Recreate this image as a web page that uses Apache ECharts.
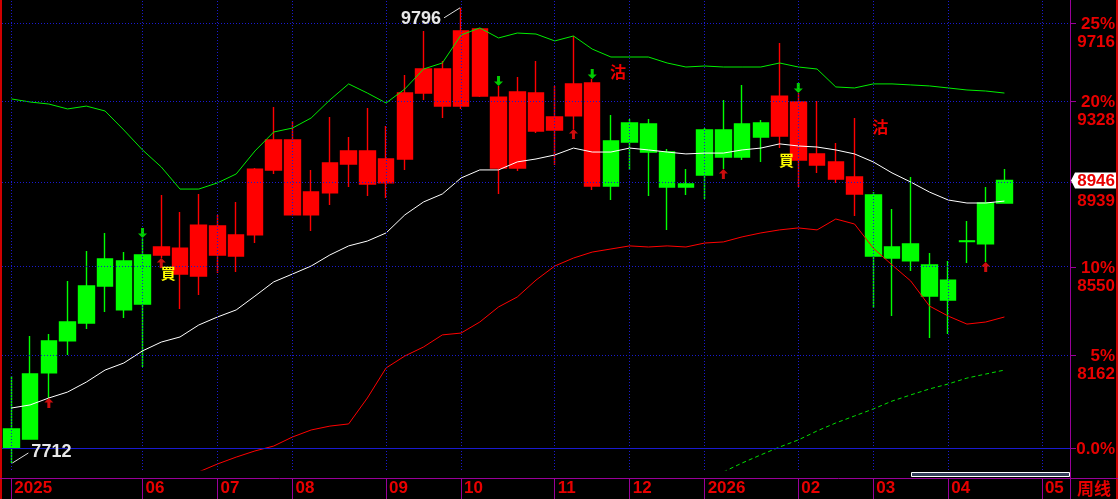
<!DOCTYPE html>
<html>
<head>
<meta charset="utf-8">
<script src="https://cdn.jsdelivr.net/npm/echarts@6/dist/echarts.min.js"></script>
<style>
html,body{margin:0;padding:0;background:#000;}
#c{width:1118px;height:499px;}
</style>
</head>
<body>
<div id="c"></div>
<script>
// ---- weekly candles (index 0 = first week shown) ----
const candleOpen  = [7773,7810,8086,8223,8301,8464,8358,8384,8639,8634,8739,8735,8694,9000,9139,9139,8892,9029,9086,9086,9048,9367,9486,9486,9677,9688,9347,9372,9367,9250,9412,9417,8920,9129,9081,8916,8916,8972,9057,9057,9153,9352,9323,9072,9034,8963,8598,8589,8576,8419,8402,8664,8653,8841];
const candleClose = [7851,8081,8223,8305,8464,8585,8576,8603,8603,8517,8508,8603,8598,8694,8996,8786,8786,8888,9024,8930,8935,9048,9367,9303,9303,9352,9005,9005,9182,9187,9255,8920,9134,9221,9216,9081,8930,9187,9187,9216,9221,9158,9043,9019,8953,8883,8878,8639,8653,8558,8490,8667,8841,8946];
const candleLow   = [7712,7810,7980,8162,8275,8349,8323,8111,8589,8362,8424,8522,8526,8657,8977,8786,8712,8832,8916,8874,8864,8996,9333,9245,9289,9347,8883,8991,9172,9019,9192,8902,8855,8996,8874,8717,8878,8860,9000,9043,9034,9100,8916,8982,8935,8781,8366,8331,8531,8236,8253,8567,8571,8841];
const candleHigh  = [8073,8244,8253,8486,8621,8703,8616,8680,8878,8799,8883,8786,8846,9005,9299,9230,8996,9250,9153,9294,9206,9456,9677,9526,9796,9688,9402,9446,9526,9402,9652,9436,9260,9240,9240,9096,9000,9196,9333,9407,9235,9617,9367,9328,9124,9245,8892,8813,8963,8612,8576,8758,8916,9000];

// ---- indicator lines ----
const maLine = [7938,7951,7980,8005,8047,8098,8128,8180,8218,8240,8292,8327,8358,8419,8482,8517,8553,8603,8644,8666,8703,8786,8846,8883,8958,8996,8996,9034,9048,9067,9100,9081,9081,9100,9091,9081,9072,9076,9076,9091,9100,9120,9110,9105,9091,9072,9034,8982,8939,8892,8855,8841,8841,8850];
const upperBand = [9338,9323,9313,9289,9303,9279,9187,9091,9010,8906,8906,8935,8977,9086,9177,9196,9245,9333,9412,9367,9318,9387,9486,9516,9657,9693,9642,9667,9662,9627,9652,9586,9546,9546,9546,9516,9496,9501,9496,9496,9496,9516,9496,9486,9397,9392,9412,9412,9407,9402,9392,9382,9377,9367];
const lowerBand = [null,null,null,null,null,null,null,null,null,null,7676,7708,7736,7761,7781,7818,7847,7863,7872,7980,8107,8158,8197,8249,8257,8305,8371,8415,8490,8553,8589,8616,8630,8644,8639,8644,8639,8657,8662,8685,8703,8717,8726,8717,8767,8744,8634,8558,8486,8375,8331,8296,8305,8327];
const longMa = [null,null,null,null,null,null,null,null,null,null,null,null,null,null,null,null,null,null,null,null,null,null,null,null,null,null,null,null,null,null,null,null,null,null,null,null,null,null,7676,7712,7745,7777,7806,7843,7876,7905,7934,7967,7993,8018,8039,8064,8081,8098];

// ---- signals ----
const upArrowIdx = [2, 8, 30, 38, 52];
const downArrowIdx = [7, 26, 31, 42];
const buySignals = [[8, 8522], [41, 9043]];
const sellSignals = [[32, 9471], [46, 9201]];

// ---- axes ----
const monthTicks = [0, 7, 11, 15, 20, 24, 29, 33, 37, 42, 46, 50, 55];
const monthLabels = ['2025','06','07','08','09','10','11','12','2026','02','03','04','05'];
const tickPercents = ['25%','20%','15%','10%','5%','0.0%'];
const tickPrices = [9716, 9328, 8939, 8550, 8162, 7773];
const yMin = 7683.7, yMax = 9836.3;
const highLabel = [24, 9796];
const lowLabel = [0, 7712];

const N = 57;
const cats = Array.from({length: N}, (_, i) => 'W' + (i + 1));
const isMonth = (i) => monthTicks.indexOf(i) >= 0;
const candles = candleOpen.map((o, i) => [o, candleClose[i], candleLow[i], candleHigh[i]]);
const pad = (arr) => cats.map((_, i) => (arr[i] === undefined ? null : arr[i]));

const RED = '#e80000', PURPLE = '#990099', GRID = '#1a1ad0';
const FONT = '"Liberation Sans", Arial, sans-serif';

const chart = echarts.init(document.getElementById('c'), null, {renderer: 'canvas'});

const hLines = tickPrices.map((p, k) => ({
  yAxis: p,
  lineStyle: k === tickPrices.length - 1 ? {color: GRID, type: 'solid', width: 1} : {color: GRID, type: [1, 2], width: 1}
}));
const vLines = monthTicks.map(i => ({xAxis: cats[i], lineStyle: {color: GRID, type: [1, 2], width: 1}}));

const upPath = 'path://M4.5 0 L9 4.5 L6 4.5 L6 10 L3 10 L3 4.5 L0 4.5 Z';
const downPath = 'path://M3 0 L6 0 L6 5.5 L9 5.5 L4.5 10 L0 5.5 L3 5.5 Z';

const option = {
  backgroundColor: '#000',
  animation: false,
  grid: {left: 2, right: 48, top: 0, bottom: 29, containLabel: false, outerBoundsMode: 'none'},
  xAxis: {
    type: 'category', data: cats, boundaryGap: true, offset: 8,
    axisLine: {show: false},
    axisTick: {show: true, alignWithLabel: true, length: 21, interval: (i) => isMonth(i), lineStyle: {color: PURPLE, width: 1}},
    axisLabel: {
      show: true, interval: (i) => isMonth(i),
      formatter: (v, i) => monthLabels[monthTicks.indexOf(i)] || '',
      align: 'left', margin: 2, padding: [0, 0, 0, 3],
      color: RED, fontSize: 17, fontWeight: 'bold', fontFamily: FONT
    },
    splitLine: {show: false}
  },
  yAxis: {type: 'log', logBase: 10, min: yMin, max: yMax, show: false, splitLine: {show: false}},
  series: [
    {
      type: 'line', data: cats.map(() => null), silent: true, z: 1,
      markLine: {silent: true, symbol: 'none', animation: false, label: {show: false}, data: hLines.concat(vLines)}
    },
    {
      type: 'candlestick', name: 'K', data: candles, barWidth: 16, z: 2, silent: true,
      itemStyle: {color: '#00ff00', color0: '#ff0000', borderColor: '#00ff00', borderColor0: '#ff0000', borderWidth: 1.4}
    },
    {type: 'line', data: pad(lowerBand), symbol: 'none', silent: true, z: 3, lineStyle: {color: '#ff0000', width: 1}},
    {type: 'line', data: pad(upperBand), symbol: 'none', silent: true, z: 3, lineStyle: {color: '#00ee00', width: 1}},
    {type: 'line', data: pad(longMa), symbol: 'none', silent: true, z: 3, lineStyle: {color: '#00dd00', width: 1, type: [4, 3]}},
    {type: 'line', data: pad(maLine), symbol: 'none', silent: true, z: 3, lineStyle: {color: '#ffffff', width: 1}},
    {
      type: 'scatter', data: upArrowIdx.map(i => [i, candleLow[i]]), symbol: upPath, symbolSize: [9, 10],
      symbolOffset: [0, 5], itemStyle: {color: '#ff1010'}, z: 5, silent: true
    },
    {
      type: 'scatter', data: downArrowIdx.map(i => [i, candleHigh[i]]), symbol: downPath, symbolSize: [9, 10],
      symbolOffset: [0, -5], itemStyle: {color: '#00ff00'}, z: 5, silent: true
    },
    {
      type: 'scatter', data: buySignals, symbol: 'rect', symbolSize: 1, itemStyle: {color: 'rgba(0,0,0,0)'}, z: 6, silent: true,
      label: {show: true, position: 'inside', offset: [7, 0], formatter: () => '買', color: '#ffff00', opacity: 1,
        fontSize: 15, fontWeight: 'bold', fontFamily: '"Noto Sans CJK TC", sans-serif'}
    },
    {
      type: 'scatter', data: sellSignals, symbol: 'rect', symbolSize: 1, itemStyle: {color: 'rgba(0,0,0,0)'}, z: 6, silent: true,
      label: {show: true, position: 'inside', offset: [7, 0], formatter: () => '沽', color: '#f00000', opacity: 1,
        fontSize: 16, fontWeight: 'bold', fontFamily: '"Noto Sans CJK TC", sans-serif'}
    }
  ]
};
chart.setOption(option);

// ---- decorations positioned through the chart's own scales ----
const yPix = (v) => chart.convertToPixel({yAxisIndex: 0}, v);
const pt = (i, v) => chart.convertToPixel({seriesIndex: 1}, [i, v]);
const g = [];
const lbl = (text, x, y, color, align, size) => ({
  type: 'text', z: 50, silent: true,
  style: {text: text, x: x, y: y, fill: color, align: align, verticalAlign: 'middle',
    font: 'bold ' + (size || 17) + 'px ' + FONT}
});
const ln = (x1, y1, x2, y2, color, w) => ({
  type: 'line', z: 40, silent: true, shape: {x1: x1, y1: y1, x2: x2, y2: y2},
  style: {stroke: color, lineWidth: w || 1}
});

// frame
g.push({type: 'rect', z: 40, silent: true, shape: {x: 0, y: 0, width: 2, height: 499}, style: {fill: '#d00000'}});
g.push({type: 'rect', z: 40, silent: true, shape: {x: 1116, y: 0, width: 2, height: 499}, style: {fill: '#d00000'}});
g.push(ln(1070.5, 0, 1070.5, 499, PURPLE, 1));
g.push(ln(0, 478.5, 1118, 478.5, PURPLE, 1));

// right-hand scale labels
tickPrices.forEach((p, k) => {
  const y = Math.round(yPix(p));
  g.push(ln(1071, y + 0.5, 1076, y + 0.5, PURPLE, 1));
  g.push(lbl(tickPercents[k], 1115, y + 1, RED, 'right'));
  if (k < tickPrices.length - 1) g.push(lbl(String(p), 1115, y + 19, RED, 'right'));
});

// current price marker
const last = candleClose[candleClose.length - 1];
const yl = yPix(last);
g.push({type: 'polygon', z: 60, silent: true,
  shape: {points: [[1071, yl], [1075, yl - 8], [1116, yl - 8], [1116, yl + 8], [1075, yl + 8]]},
  style: {fill: '#ffffff'}});
g.push(Object.assign(lbl(String(last), 1115, yl + 1, RED, 'right'), {z: 61}));

// period label
g.push({type: 'text', z: 50, silent: true,
  style: {text: '周线', x: 1094, y: 489, fill: RED, align: 'center', verticalAlign: 'middle',
    font: 'bold 17px "Noto Sans CJK SC", sans-serif'}});

// scroll bar
g.push({type: 'rect', z: 45, silent: true, shape: {x: 911.5, y: 472.5, width: 158, height: 4},
  style: {fill: '#34405a', stroke: '#ffffff', lineWidth: 1}});

// high / low annotations
const hp = pt(highLabel[0], highLabel[1]);
g.push(ln(hp[0] - 17, hp[1] + 10, hp[0] - 1, hp[1], '#e0e0e0', 1));
g.push(lbl(String(highLabel[1]), hp[0] - 20, hp[1] + 11, '#e8e8e8', 'right', 18));
const lp = pt(lowLabel[0], lowLabel[1]);
g.push(ln(lp[0] + 1, lp[1], lp[0] + 17, lp[1] - 10, '#e0e0e0', 1));
g.push(lbl(String(lowLabel[1]), lp[0] + 20, lp[1] - 11, '#e8e8e8', 'left', 18));

chart.setOption({graphic: g});
</script>
</body>
</html>
